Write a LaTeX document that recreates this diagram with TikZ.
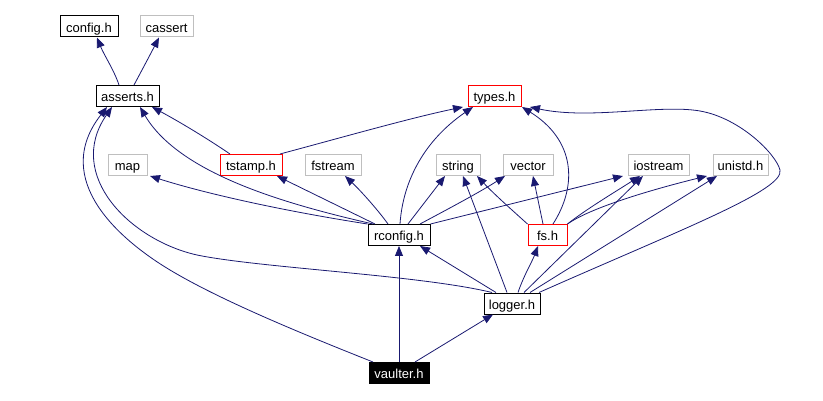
\documentclass[tikz,border=0pt]{standalone}
\usepackage{fontspec}
\newfontfamily\lab{Liberation Sans}
\usetikzlibrary{arrows.meta}
\definecolor{edgeblue}{RGB}{25,25,112}
\definecolor{sysgray}{RGB}{191,191,191}
\tikzset{
  box/.style={draw=black, rectangle, minimum height=21pt, inner sep=0pt, line width=1pt, text height=11.4pt, text depth=0pt, font=\lab\fontsize{13}{15}\selectfont},
  sysbox/.style={box, draw=sysgray},
  redbox/.style={box, draw=red},
  topbox/.style={box, fill=black, text=white},
  edge/.style={draw=edgeblue, line width=0.8pt, -{Triangle[length=10pt,width=8pt]}}
}
\begin{document}
\begin{tikzpicture}[x=1pt,y=-1pt]
\useasboundingbox (0,0) rectangle (823,401);
% nodes
\node[box, minimum width=58pt] (config) at (89,26.5) {config.h};
\node[sysbox, minimum width=53pt] (cassert) at (166.5,26.5) {cassert};
\node[box, minimum width=63pt] (asserts) at (127.5,96) {asserts.h};
\node[redbox, minimum width=53pt] (types) at (494.5,96) {types.h};
\node[sysbox, minimum width=39pt] (map) at (127.5,165) {map};
\node[redbox, minimum width=62pt] (tstamp) at (251,165) {tstamp.h};
\node[sysbox, minimum width=56pt] (fstream) at (333,165) {fstream};
\node[sysbox, minimum width=44pt] (string) at (458,165) {string};
\node[sysbox, minimum width=50pt] (vector) at (528,165) {vector};
\node[sysbox, minimum width=61pt] (iostream) at (658.5,165) {iostream};
\node[sysbox, minimum width=55pt] (unistd) at (740.5,165) {unistd.h};
\node[box, minimum width=62pt] (rconfig) at (399,235) {rconfig.h};
\node[redbox, minimum width=39pt] (fs) at (547.5,235) {fs.h};
\node[box, minimum width=56pt] (logger) at (512,303.5) {logger.h};
\node[topbox, minimum width=60pt] (vaulter) at (399,373) {vaulter.h};
% asserts.h
\draw[edge] ([xshift=-8.5pt]asserts.north) .. controls (114,70) and (104,55) .. ([xshift=8pt]config.south);
\draw[edge] ([xshift=6.5pt]asserts.north) .. controls (142,70) and (150,55) .. ([xshift=-7.5pt]cassert.south);
% tstamp.h
\draw[edge] ([xshift=-21pt]tstamp.north) .. controls (205,137) and (178,121) .. ([xshift=24.5pt]asserts.south);
\draw[edge] ([xshift=29pt]tstamp.north) .. controls (340,138) and (410,118) .. ([xshift=-31.5pt]types.south);
% rconfig.h
\draw[edge] ([xshift=-26pt]rconfig.north) .. controls (290,205) and (180,175) .. ([xshift=12.5pt]asserts.south);
\draw[edge] (rconfig.north west) .. controls (290,212) and (210,195) .. ([xshift=22.5pt]map.south);
\draw[edge] ([xshift=-24pt]rconfig.north) -- ([xshift=26pt]tstamp.south);
\draw[edge] ([xshift=-11pt]rconfig.north) .. controls (378,210) and (360,190) .. ([xshift=12pt]fstream.south);
\draw[edge] ([xshift=1pt]rconfig.north) .. controls (403,180) and (425,140) .. ([xshift=-21.5pt]types.south);
\draw[edge] ([xshift=9pt]rconfig.north) -- ([xshift=-13pt]string.south);
\draw[edge] ([xshift=21pt]rconfig.north) .. controls (450,208) and (480,192) .. ([xshift=-23pt]vector.south);
\draw[edge] (rconfig.north east) -- ([xshift=-35.5pt]iostream.south);
% fs.h
\draw[edge] (fs.north west) .. controls (512,210) and (495,195) .. ([xshift=19pt]string.south);
\draw[edge] ([xshift=-4.5pt]fs.north) -- ([xshift=5pt]vector.south);
\draw[edge] ([xshift=5.5pt]fs.north) .. controls (578,185) and (575,140) .. ([xshift=27.5pt]types.south);
\draw[edge] (fs.north east) .. controls (585,210) and (615,192) .. ([xshift=-18.5pt]iostream.south);
\draw[edge] (fs.north east) .. controls (590,208) and (650,190) .. ([xshift=-33.5pt]unistd.south);
% logger.h
\draw[edge] ([xshift=-16pt]logger.north) -- ([xshift=21pt]rconfig.south);
\coordinate (la) at (197,255);
\draw[edge] ([xshift=-20pt]logger.north) .. controls (420,275) and (260,268) .. (la)
  .. controls (130,240) and (65,175) .. ([xshift=-15.5pt]asserts.south);
\draw[edge] ([xshift=-5pt]logger.north) -- ([xshift=5pt]string.south);
\draw[edge] ([xshift=6pt]logger.north) .. controls (524,275) and (532,262) .. ([xshift=-9.5pt]fs.south);
\draw[edge] ([xshift=12pt]logger.north) -- ([xshift=-15.5pt]iostream.south);
\draw[edge] ([xshift=18pt]logger.north) -- ([xshift=-23.5pt]unistd.south);
\coordinate (lt1) at (780,170);
\coordinate (lt2) at (700,111);
\draw[edge] ([xshift=27pt]logger.north) .. controls (680,230) and (785,190) .. (lt1)
  .. controls (776,154) and (740,118) .. (lt2)
  .. controls (660,104) and (590,120) .. ([xshift=35.5pt]types.south);
% vaulter.h
\coordinate (va) at (170,270);
\draw[edge] ([xshift=-26pt]vaulter.north) .. controls (300,333) and (220,300) .. (va)
  .. controls (120,240) and (50,180) .. ([xshift=-20.5pt]asserts.south);
\draw[edge] (vaulter.north) -- (rconfig.south);
\draw[edge] ([xshift=16pt]vaulter.north) -- ([xshift=-19pt]logger.south);
\end{tikzpicture}
\end{document}
